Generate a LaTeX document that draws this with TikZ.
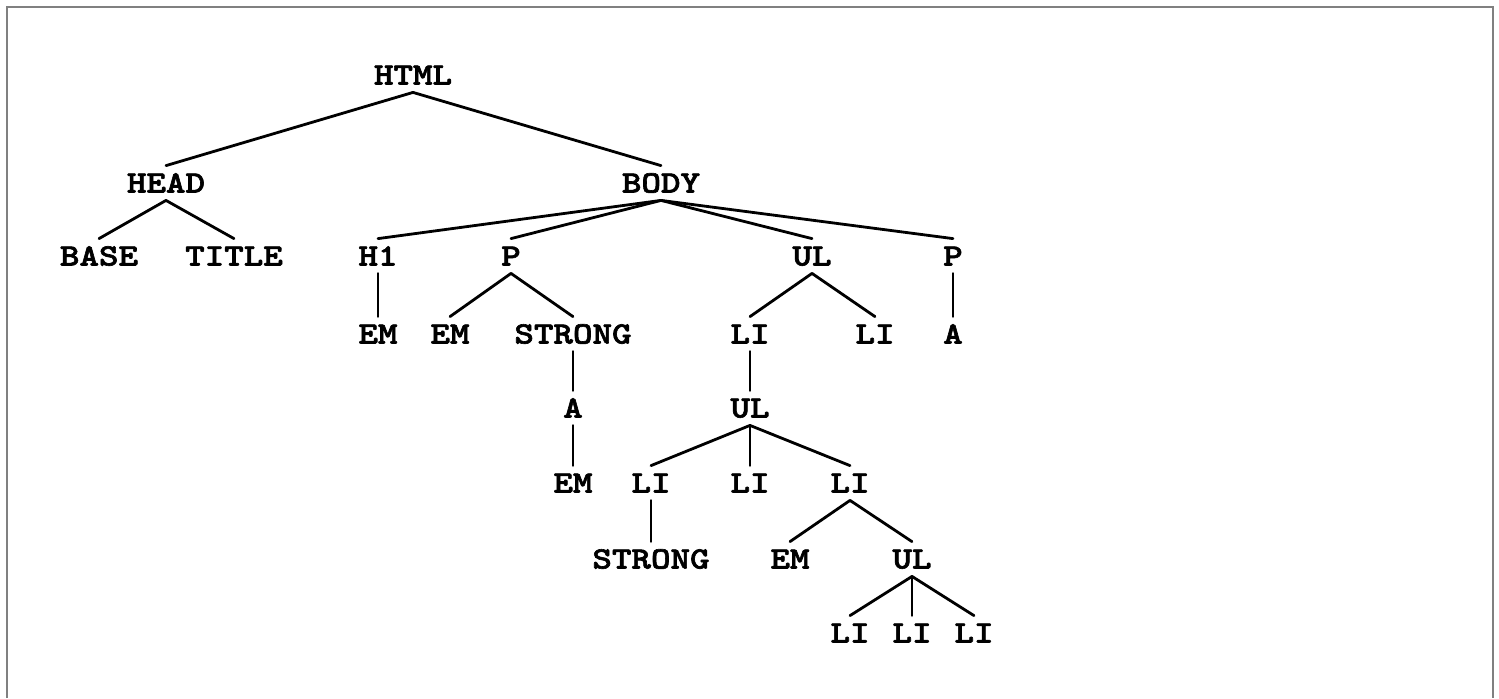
\documentclass[tikz,border=0pt]{standalone}
\usepackage{fontspec}
\newfontfamily\treefont{lmmonolt10-bold.otf}[FakeStretch=1.2, FakeBold=2]
\begin{document}
\begin{tikzpicture}[x=0.5pt,y=-0.5pt,
  tag/.style={font=\treefont\fontsize{15.5}{18}\selectfont,
    inner xsep=0pt, inner ysep=3.75pt, text height=9.5pt, text depth=0pt},
  edge/.style={line width=1.4pt, line cap=round},
  frame/.style={draw=black!50, line width=1.1pt}]
\useasboundingbox (0,0) rectangle (1499,698);
\draw[frame] (7,698) -- (7,7) -- (1493,7) -- (1493,698);

% level 0-1
\node[tag] (html) at (413,75) {HTML};
\node[tag] (head) at (166,183) {HEAD};
\node[tag] (body) at (661,183) {BODY};
% level 2
\node[tag] (base)  at (99,256)  {BASE};
\node[tag] (title) at (234,256) {TITLE};
\node[tag] (h1)    at (378,256) {H1};
\node[tag] (pa)    at (511,256) {P};
\node[tag] (ula)   at (812,256) {UL};
\node[tag] (pb)    at (953,256) {P};
% level 3
\node[tag] (ema)     at (378,334) {EM};
\node[tag] (emb)     at (450,334) {EM};
\node[tag] (stronga) at (573,334) {STRONG};
\node[tag] (lia)     at (750,334) {LI};
\node[tag] (lib)     at (875,334) {LI};
\node[tag] (aa)      at (953,334) {A};
% level 4
\node[tag] (ab)  at (573,408) {A};
\node[tag] (ulb) at (750,408) {UL};
% level 5
\node[tag] (emc) at (573,483) {EM};
\node[tag] (lic) at (651,483) {LI};
\node[tag] (lid) at (750,483) {LI};
\node[tag] (lie) at (850,483) {LI};
% level 6
\node[tag] (strongb) at (651,559) {STRONG};
\node[tag] (emd)     at (790,559) {EM};
\node[tag] (ulc)     at (912,559) {UL};
% level 7
\node[tag] (lif) at (850,633) {LI};
\node[tag] (lig) at (912,633) {LI};
\node[tag] (lih) at (974,633) {LI};

% parent-child links
\foreach \p/\c in {html/head, html/body,
    head/base, head/title,
    body/h1, body/pa, body/ula, body/pb,
    h1/ema, pa/emb, pa/stronga, ula/lia, ula/lib, pb/aa,
    stronga/ab, lia/ulb,
    ab/emc, ulb/lic, ulb/lid, ulb/lie,
    lic/strongb, lie/emd, lie/ulc,
    ulc/lif, ulc/lig, ulc/lih}
  \draw[edge] (\p.south) -- (\c.north);
\end{tikzpicture}
\end{document}
